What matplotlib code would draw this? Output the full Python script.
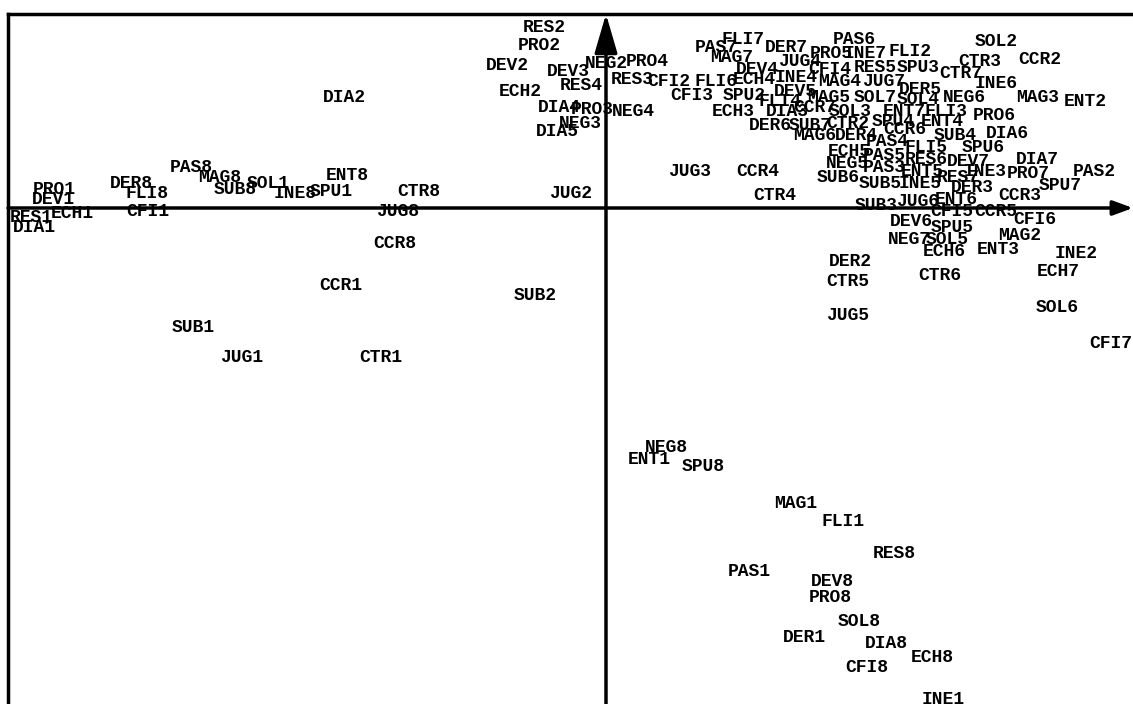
import matplotlib
matplotlib.use("Agg")
import matplotlib.pyplot as plt

# correspondence analysis: modalities (variable + class 1..8) on factors 1 and 2
labels = [
    'CCR1', 'CCR2', 'CCR3', 'CCR4', 'CCR5', 'CCR6', 'CCR7', 'CCR8',
    'CFI1', 'CFI2', 'CFI3', 'CFI4', 'CFI5', 'CFI6', 'CFI7', 'CFI8',
    'CTR1', 'CTR2', 'CTR3', 'CTR4', 'CTR5', 'CTR6', 'CTR7', 'CTR8',
    'DER1', 'DER2', 'DER3', 'DER4', 'DER5', 'DER6', 'DER7', 'DER8',
    'DEV1', 'DEV2', 'DEV3', 'DEV4', 'DEV5', 'DEV6', 'DEV7', 'DEV8',
    'DIA1', 'DIA2', 'DIA3', 'DIA4', 'DIA5', 'DIA6', 'DIA7', 'DIA8',
    'ECH1', 'ECH2', 'ECH3', 'ECH4', 'ECH5', 'ECH6', 'ECH7', 'ECH8',
    'ENT1', 'ENT2', 'ENT3', 'ENT4', 'ENT5', 'ENT6', 'ENT7', 'ENT8',
    'FLI1', 'FLI2', 'FLI3', 'FLI4', 'FLI5', 'FLI6', 'FLI7', 'FLI8',
    'INE1', 'INE2', 'INE3', 'INE4', 'INE5', 'INE6', 'INE7', 'INE8',
    'JUG1', 'JUG2', 'JUG3', 'JUG4', 'JUG5', 'JUG6', 'JUG7', 'JUG8',
    'MAG1', 'MAG2', 'MAG3', 'MAG4', 'MAG5', 'MAG6', 'MAG7', 'MAG8',
    'NEG2', 'NEG3', 'NEG4', 'NEG5', 'NEG6', 'NEG7', 'NEG8',
    'PAS1', 'PAS2', 'PAS3', 'PAS4', 'PAS5', 'PAS6', 'PAS7', 'PAS8',
    'PRO1', 'PRO2', 'PRO3', 'PRO4', 'PRO5', 'PRO6', 'PRO7', 'PRO8',
    'RES1', 'RES2', 'RES3', 'RES4', 'RES5', 'RES6', 'RES7', 'RES8',
    'SOL1', 'SOL2', 'SOL3', 'SOL4', 'SOL5', 'SOL6', 'SOL7', 'SOL8',
    'SPU1', 'SPU2', 'SPU3', 'SPU4', 'SPU5', 'SPU6', 'SPU7', 'SPU8',
    'SUB1', 'SUB2', 'SUB3', 'SUB4', 'SUB5', 'SUB6', 'SUB7', 'SUB8',
]

factor1 = [
    -0.530, 0.868, 0.828, 0.304, 0.780, 0.598, 0.418, -0.422,
    -0.916, 0.126, 0.172, 0.448, 0.692, 0.858, 1.010, 0.522,
    -0.450, 0.484, 0.748, 0.338, 0.484, 0.668, 0.710, -0.374,
    0.396, 0.488, 0.732, 0.500, 0.628, 0.328, 0.360, -0.950,
    -1.106, -0.198, -0.076, 0.302, 0.378, 0.610, 0.724, 0.452,
    -1.144, -0.524, 0.362, -0.094, -0.098, 0.802, 0.862, 0.560,
    -1.068, -0.172, 0.254, 0.296, 0.486, 0.676, 0.904, 0.652,
    0.086, 0.958, 0.784, 0.672, 0.632, 0.700, 0.596, -0.518,
    0.474, 0.608, 0.680, 0.348, 0.640, 0.220, 0.274, -0.918,
    0.674, 0.940, 0.758, 0.380, 0.628, 0.780, 0.518, -0.622,
    -0.728, -0.070, 0.168, 0.388, 0.484, 0.624, 0.556, -0.416,
    0.380, 0.828, 0.864, 0.468, 0.446, 0.418, 0.252, -0.772,
    0.000, -0.052, 0.054, 0.482, 0.716, 0.606, 0.120,
    0.286, 0.976, 0.556, 0.562, 0.556, 0.496, 0.220, -0.830,
    -1.104, -0.134, -0.028, 0.082, 0.450, 0.776, 0.844, 0.448,
    -1.150, -0.124, 0.052, -0.050, 0.538, 0.640, 0.704, 0.576,
    -0.676, 0.780, 0.488, 0.624, 0.682, 0.902, 0.538, 0.506,
    -0.550, 0.276, 0.624, 0.574, 0.692, 0.754, 0.908, 0.194,
    -0.826, -0.142, 0.540, 0.698, 0.548, 0.464, 0.408, -0.742,
]

factor2 = [
    -0.154, 0.298, 0.024, 0.072, -0.006, 0.158, 0.200, -0.072,
    -0.006, 0.254, 0.224, 0.276, -0.008, -0.022, -0.270, -0.920,
    -0.300, 0.168, 0.292, 0.024, -0.146, -0.134, 0.268, 0.032,
    -0.860, -0.106, 0.040, 0.146, 0.236, 0.166, 0.320, 0.050,
    0.018, 0.284, 0.272, 0.276, 0.234, -0.026, 0.092, -0.746,
    -0.040, 0.222, 0.192, 0.202, 0.154, 0.148, 0.098, -0.872,
    -0.010, 0.234, 0.192, 0.256, 0.112, -0.086, -0.126, -0.898,
    -0.504, 0.214, -0.082, 0.172, 0.074, 0.018, 0.194, 0.066,
    -0.626, 0.312, 0.192, 0.212, 0.120, 0.252, 0.338, 0.028,
    -0.984, -0.090, 0.072, 0.262, 0.050, 0.250, 0.308, 0.028,
    -0.300, 0.028, 0.072, 0.292, -0.216, 0.012, 0.252, -0.008,
    -0.590, -0.054, 0.222, 0.252, 0.222, 0.144, 0.302, 0.060,
    0.288, 0.168, 0.194, 0.088, 0.222, -0.062, -0.480,
    -0.726, 0.072, 0.082, 0.134, 0.106, 0.338, 0.320, 0.080,
    0.038, 0.324, 0.198, 0.294, 0.310, 0.186, 0.070, -0.778,
    -0.018, 0.362, 0.256, 0.244, 0.280, 0.098, 0.060, -0.692,
    0.050, 0.332, 0.192, 0.216, -0.064, -0.198, 0.220, -0.826,
    0.032, 0.226, 0.280, 0.172, -0.038, 0.122, 0.044, -0.516,
    -0.238, -0.174, 0.004, 0.146, 0.050, 0.060, 0.166, 0.038,
]

fig = plt.figure(figsize=(11.33, 7.04), dpi=100)
ax = fig.add_axes([0, 0, 1, 1])
ax.set_xlim(-1.212, 1.054)
ax.set_ylim(-0.992, 0.416)
ax.axis('off')

# frame (left and top borders of the scanned plot)
ax.plot([-1.196, -1.196], [-0.992, 0.388], color='black', lw=2.5)
ax.plot([-1.196, 1.054], [0.388, 0.388], color='black', lw=2.5)

# factor axes with arrows
ax.annotate('', xy=(0, 0.388), xytext=(0, -0.992),
            arrowprops=dict(arrowstyle='-|>,head_length=1.2,head_width=0.35',
                            color='black', lw=2.5, mutation_scale=20,
                            shrinkA=0, shrinkB=0))
ax.annotate('', xy=(1.054, 0), xytext=(-1.196, 0),
            arrowprops=dict(arrowstyle='-|>,head_length=0.6,head_width=0.22',
                            color='black', lw=2.5, mutation_scale=20,
                            shrinkA=0, shrinkB=0))

for lab, x, y in zip(labels, factor1, factor2):
    ax.text(x, y, lab, ha='center', va='center', fontsize=13,
            fontweight='bold', family=['Liberation Mono', 'DejaVu Sans Mono'])

fig.savefig('out.png', dpi=100)
